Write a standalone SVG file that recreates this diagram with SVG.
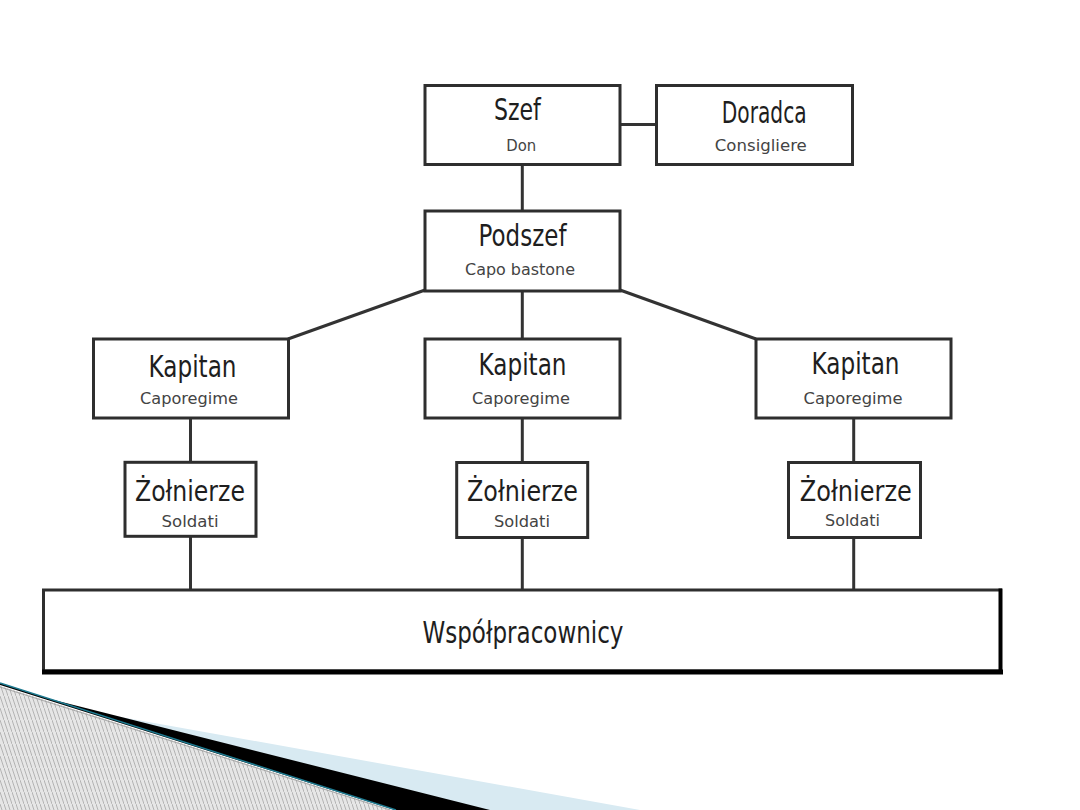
<svg xmlns="http://www.w3.org/2000/svg" width="1080" height="810" viewBox="0 0 1080 810">
<style>
.box{fill:#ffffff;stroke:#2e2e2e;stroke-width:3}
.conn{stroke:#333333;stroke-width:3;fill:none}
.t{font-family:"DejaVu Sans","Liberation Sans",sans-serif;font-size:30px;fill:#1e1e1e;text-anchor:middle}
.z{font-family:"DejaVu Sans","Liberation Sans",sans-serif;font-size:28px;fill:#1e1e1e;text-anchor:middle}
.s{font-family:"DejaVu Sans","Liberation Sans",sans-serif;font-size:15px;fill:#444444;text-anchor:middle}
</style>
<defs>
<pattern id="hatch" width="4" height="12" patternUnits="userSpaceOnUse">
<rect width="4" height="12" fill="#e6e6e6"/>
<path d="M0,0 L4,12" stroke="#a6a6a6" stroke-width="0.8"/>
</pattern>
</defs>
<rect width="1080" height="810" fill="#ffffff"/>
<g id="swoosh">
<polygon points="0,683 90,711.5 640,810 0,810" fill="#d8eaf2"/>
<polygon points="0,683 50,699 490,810 0,810" fill="#000000"/>
<polygon points="0,686 392,810 0,810" fill="url(#hatch)"/>
<line x1="0" y1="685.5" x2="393" y2="810" stroke="#ffffff" stroke-width="1.2"/>
<line x1="0" y1="687" x2="390" y2="810" stroke="#9a9a9a" stroke-width="0.8"/>
<line x1="0" y1="683" x2="396" y2="810" stroke="#1f7b91" stroke-width="1.5"/>
</g>
<g id="connectors">
<line class="conn" x1="620" y1="124.5" x2="656" y2="124.5"/>
<line class="conn" x1="522.3" y1="165" x2="522.3" y2="211"/>
<line class="conn" x1="522.3" y1="291" x2="522.3" y2="339"/>
<line class="conn" x1="425" y1="290" x2="288" y2="339"/>
<line class="conn" x1="620" y1="290" x2="756" y2="339"/>
<line class="conn" x1="190.5" y1="418" x2="190.5" y2="462"/>
<line class="conn" x1="522.3" y1="418" x2="522.3" y2="462"/>
<line class="conn" x1="853.7" y1="418" x2="853.7" y2="462"/>
<line class="conn" x1="190.5" y1="537" x2="190.5" y2="590"/>
<line class="conn" x1="522.3" y1="537" x2="522.3" y2="590"/>
<line class="conn" x1="853.7" y1="537" x2="853.7" y2="590"/>
</g>
<g id="szef">
<rect class="box" x="425" y="85.5" width="195" height="79"/>
<text class="t" x="517.4" y="119.5" textLength="47" lengthAdjust="spacingAndGlyphs">Szef</text>
<text class="s" x="521.3" y="150.5" textLength="30" lengthAdjust="spacingAndGlyphs">Don</text>
</g>
<g id="doradca">
<rect class="box" x="656.5" y="85.5" width="196" height="79"/>
<text class="t" x="764.2" y="123" textLength="85" lengthAdjust="spacingAndGlyphs">Doradca</text>
<text class="s" x="760.8" y="150.5" textLength="92" lengthAdjust="spacingAndGlyphs">Consigliere</text>
</g>
<g id="podszef">
<rect class="box" x="425" y="211" width="195" height="80"/>
<text class="t" x="522.5" y="245.7" textLength="88" lengthAdjust="spacingAndGlyphs">Podszef</text>
<text class="s" x="520" y="275" textLength="110" lengthAdjust="spacingAndGlyphs">Capo bastone</text>
</g>
<g id="kapitan1">
<rect class="box" x="93.5" y="339" width="195" height="79"/>
<text class="t" x="192.5" y="376.5" textLength="88" lengthAdjust="spacingAndGlyphs">Kapitan</text>
<text class="s" x="189" y="404" textLength="98" lengthAdjust="spacingAndGlyphs">Caporegime</text>
</g>
<g id="kapitan2">
<rect class="box" x="425" y="339" width="195" height="79"/>
<text class="t" x="522.5" y="375" textLength="88" lengthAdjust="spacingAndGlyphs">Kapitan</text>
<text class="s" x="521" y="404" textLength="98" lengthAdjust="spacingAndGlyphs">Caporegime</text>
</g>
<g id="kapitan3">
<rect class="box" x="756" y="339" width="195" height="79"/>
<text class="t" x="855.5" y="374" textLength="88" lengthAdjust="spacingAndGlyphs">Kapitan</text>
<text class="s" x="853" y="404" textLength="99" lengthAdjust="spacingAndGlyphs">Caporegime</text>
</g>
<g id="zolnierze1">
<rect class="box" x="125" y="462.3" width="131" height="74"/>
<text class="z" x="190" y="501" textLength="110" lengthAdjust="spacingAndGlyphs">Żołnierze</text>
<text class="s" x="190" y="526.5" textLength="57" lengthAdjust="spacingAndGlyphs">Soldati</text>
</g>
<g id="zolnierze2">
<rect class="box" x="456.7" y="462.5" width="131" height="75"/>
<text class="z" x="522.5" y="501" textLength="111" lengthAdjust="spacingAndGlyphs">Żołnierze</text>
<text class="s" x="522" y="526.5" textLength="56" lengthAdjust="spacingAndGlyphs">Soldati</text>
</g>
<g id="zolnierze3">
<rect class="box" x="788.5" y="462.5" width="132" height="75"/>
<text class="z" x="855.8" y="500.5" textLength="112" lengthAdjust="spacingAndGlyphs">Żołnierze</text>
<text class="s" x="852.5" y="526" textLength="55" lengthAdjust="spacingAndGlyphs">Soldati</text>
</g>
<g id="wspolpracownicy">
<rect class="box" x="43.5" y="590" width="957" height="81"/>
<line x1="42" y1="672" x2="1003" y2="672" stroke="#000000" stroke-width="5"/>
<line x1="1000.5" y1="588.5" x2="1000.5" y2="674" stroke="#000000" stroke-width="4"/>
<text class="t" x="523" y="642.5" textLength="201" lengthAdjust="spacingAndGlyphs">Współpracownicy</text>
</g>
</svg>
